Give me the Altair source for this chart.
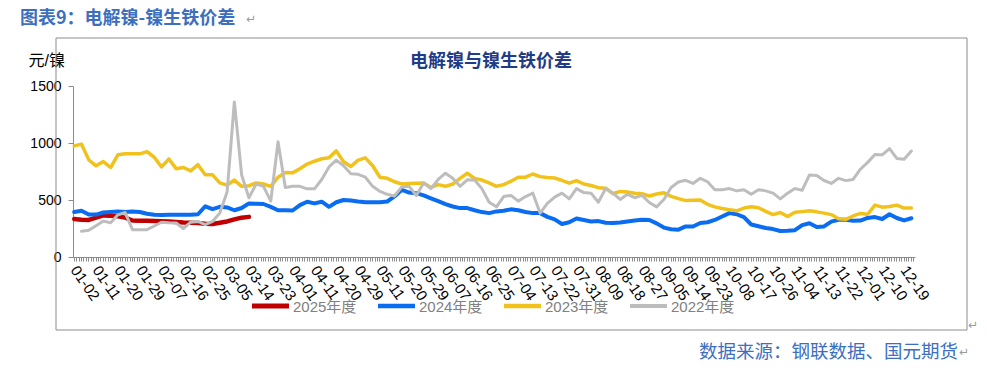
import json
import datetime as dt
import altair as alt
import pandas as pd

# ---------------- categories / labels ----------------
TICK_LABELS = ["01-02", "01-11", "01-20", "01-29", "02-07", "02-16", "02-25", "03-05", "03-14", "03-23",
               "04-01", "04-11", "04-20", "04-29", "05-11", "05-20", "05-29", "06-07", "06-16", "06-25",
               "07-04", "07-13", "07-22", "07-31", "08-09", "08-18", "08-27", "09-05", "09-14", "09-23",
               "10-08", "10-17", "10-26", "11-04", "11-13", "11-22", "12-01", "12-10", "12-19"]
NO_TRADE = ["04-04", "05-01", "05-02", "05-03", "10-01", "10-02", "10-03", "10-04", "10-05", "10-06"]
FIRST_DAY, LAST_DAY = "01-02", "12-23"

CATEGORIES = []
_d = dt.date(2024, int(FIRST_DAY[:2]), int(FIRST_DAY[3:]))
_end = dt.date(2024, int(LAST_DAY[:2]), int(LAST_DAY[3:]))
while _d <= _end:
    _s = _d.strftime("%m-%d")
    if _s not in NO_TRADE:
        CATEGORIES.append(_s)
    _d += dt.timedelta(days=1)

STEP = 3                      # values below are read at every 3rd category
SAMPLE_DATES = CATEGORIES[::STEP]

SERIES = ["2025年度", "2024年度", "2023年度", "2022年度"]
COLORS = ["#C00000", "#0A6CF0", "#F1C21B", "#BDBDBD"]
WIDTHS = [4.5, 3, 3, 3]

V2025 = [333, 327, 325, 345, 365, 362, 358, 345, 320, 318, 318, 316, 314, 312, 308, 303, 300, 298,
         292, 290, 300, 312, 330, 345, 352]

V2024 = [394, 405, 372, 372, 390, 395, 400, 395, 400, 395, 380, 370, 368, 370, 370, 370, 370, 375,
         445, 420, 440, 435, 410, 430, 470, 467, 465, 440, 410, 410, 408, 455, 485, 470,
         485, 440, 480, 500, 495, 487, 481, 480, 480, 487, 531, 590, 565, 560, 540, 515, 490, 464,
         443, 429, 429, 410, 394, 385, 400, 405, 418, 410, 395, 385, 385, 352, 330, 290, 305, 338,
         325, 312, 315, 300, 298, 303, 312, 320, 327, 325,
         295, 258, 243, 240, 268, 268, 298, 305, 325, 355, 385, 375, 350, 285, 270, 254, 245, 228,
         230, 235, 280, 296, 263, 268, 310, 327, 327, 318, 320, 343, 350, 333, 375, 342, 321, 340]

V2023 = [975, 990, 852, 800, 837, 785, 896, 905, 905, 905, 925, 875, 790, 860, 775, 785, 755, 810,
         721, 721, 650, 630, 675, 620, 625, 650, 640, 620, 700, 741, 738,
         775, 815, 840, 862, 870, 931, 835, 794, 850, 870, 800, 700, 690, 660, 640, 645, 648, 650,
         610, 635, 620, 640, 690, 735, 690, 675, 650, 620, 635, 665, 700, 700, 728, 705, 698, 693,
         672, 648, 670, 640, 627, 608, 604, 555, 575, 570, 560, 555, 535,
         553, 563, 532, 512, 495, 497, 500, 462, 440, 425, 415, 405, 429, 440, 432, 400, 372, 390,
         355, 392, 398, 405, 396, 385, 372, 336, 330, 360, 382, 375, 455, 437, 443, 455, 429, 429]

V2022 = [225, 235, 275, 315, 300, 370, 390, 240, 238, 240, 272, 305, 300, 298, 250, 305, 312, 285,
         312, 385, 570, 1360, 720, 520, 640, 620, 490, 1010, 610, 620, 620, 598, 598,
         680, 790, 850, 800, 730, 725, 700, 620, 575, 550, 535, 615, 620, 540, 650, 600, 680, 735,
         690, 620, 677, 675, 600, 480, 440, 530, 540, 490, 530, 560, 385, 470, 525, 560, 510, 600,
         565, 560, 480, 600, 560, 505, 550, 520, 540, 478,
         440, 505, 610, 658, 673, 645, 690, 660, 590, 590, 600, 580, 590, 550, 590, 580, 560, 510,
         560, 600, 585, 720, 715, 671, 645, 690, 670, 680, 770, 830, 900, 896, 950, 865, 858, 930]

VALUES = {"2025年度": V2025, "2024年度": V2024, "2023年度": V2023, "2022年度": V2022}
FIRST_SAMPLE = {"2025年度": 0, "2024年度": 0, "2023年度": 0, "2022年度": 1}

rows = []
for s in SERIES:
    for i, v in enumerate(VALUES[s]):
        rows.append({"date": SAMPLE_DATES[FIRST_SAMPLE[s] + i], "value": v, "series": s})
df = pd.DataFrame(rows)

FONT = "Liberation Sans, Noto Sans CJK SC"
CJK = "Noto Sans CJK SC"
W, H = 842, 171

label_expr = "indexof(" + json.dumps(TICK_LABELS) + ", datum.value) >= 0 ? datum.value : ''"

lines = alt.Chart(df).mark_line(strokeJoin="round", strokeCap="round").encode(
    x=alt.X("date:O", sort=CATEGORIES,
            scale=alt.Scale(domain=CATEGORIES, type="band", paddingInner=0, paddingOuter=0),
            axis=alt.Axis(title=None, labelExpr=label_expr, labelAngle=55, labelAlign="left",
                          labelBaseline="middle", labelFontSize=15, labelColor="#000000",
                          labelFont=FONT, labelOverlap=False, labelPadding=6, tickSize=4,
                          tickColor="#8c8c8c", domainColor="#8c8c8c", grid=False)),
    y=alt.Y("value:Q", scale=alt.Scale(domain=[0, 1500], nice=False),
            axis=alt.Axis(values=[0, 500, 1000, 1500], format="d", grid=False, title="元/镍",
                          titleAngle=0, titleX=-45, titleY=-26, titleAlign="left",
                          titleBaseline="middle", titleFontSize=16, titleFontWeight="normal",
                          titleColor="#000000", titleFont=FONT, labelFontSize=14,
                          labelColor="#000000", labelFont=FONT, tickSize=5, tickColor="#8c8c8c",
                          domainColor="#8c8c8c", labelPadding=7)),
    color=alt.Color("series:N", scale=alt.Scale(domain=SERIES, range=COLORS), legend=None),
    size=alt.Size("series:N", scale=alt.Scale(domain=SERIES, range=WIDTHS), legend=None),
)

# ---------------- hand-made legend (one entry per series) ----------------
LEG_X0, LEG_DX, LEG_LEN, LEG_Y = 179, 126, 37, 220
leg = pd.DataFrame({
    "series": SERIES,
    "x0": [LEG_X0 + i * LEG_DX for i in range(len(SERIES))],
})
leg["x1"] = leg["x0"] + LEG_LEN
leg["xt"] = leg["x1"] + 4
leg_lines = alt.Chart(leg).mark_rule(strokeCap="butt").encode(
    x=alt.X("x0:Q", scale=None), x2="x1:Q", y=alt.value(LEG_Y),
    color=alt.Color("series:N", scale=alt.Scale(domain=SERIES, range=COLORS), legend=None),
    strokeWidth=alt.StrokeWidth("series:N", scale=alt.Scale(domain=SERIES, range=[5, 4, 4, 4]),
                                legend=None),
)
leg_text = alt.Chart(leg).mark_text(align="left", baseline="middle", font=FONT, fontSize=15,
                                    color="#808080").encode(
    x=alt.X("xt:Q", scale=None), y=alt.value(LEG_Y + 1), text="series:N")

frame = alt.Chart(pd.DataFrame({"k": [0]})).mark_rect(fill="transparent", stroke="#8c8c8c",
                                                      strokeWidth=1).encode(
    x=alt.value(-17), x2=alt.value(894), y=alt.value(-48), y2=alt.value(244))

PAGE_TITLE = ["图表9：电解镍-镍生铁价差"]
CHART_TITLE = ["电解镍与镍生铁价差"]
SOURCE = ["数据来源：钢联数据、国元期货"]

page_title = alt.Chart(pd.DataFrame({"t": PAGE_TITLE})).mark_text(
    align="left", baseline="middle", font=CJK, fontSize=18, fontWeight="bold", color="#3D6FC0"
).encode(text="t:N", x=alt.value(-53), y=alt.value(-67))

chart_title = alt.Chart(pd.DataFrame({"t": CHART_TITLE})).mark_text(
    align="center", baseline="middle", font=CJK, fontSize=18, fontWeight="bold", color="#1F3C88"
).encode(text="t:N", x=alt.value(418), y=alt.value(-24))

source = alt.Chart(pd.DataFrame({"t": SOURCE})).mark_text(
    align="right", baseline="middle", font=CJK, fontSize=18.5, color="#3D6FC0"
).encode(text="t:N", x=alt.value(885), y=alt.value(266))

marks = alt.Chart(pd.DataFrame({"t": ["↵", "↵", "↵"], "px": [173, 895, 886], "py": [-67, 239, 266]})
                  ).mark_text(align="left", baseline="middle", font="DejaVu Sans", fontSize=12,
                              color="#9a9a9a").encode(
    text="t:N", x=alt.X("px:Q", scale=None), y=alt.Y("py:Q", scale=None))

chart = alt.layer(frame, lines, leg_lines, leg_text, page_title, chart_title, source, marks).properties(
    width=W, height=H,
    autosize=alt.AutoSizeParams(type="none"),
    padding={"left": 65, "top": 78, "right": 64, "bottom": 105},
).configure_view(stroke=None)

chart.save("out.html", embed_options={"renderer": "svg", "actions": False})
